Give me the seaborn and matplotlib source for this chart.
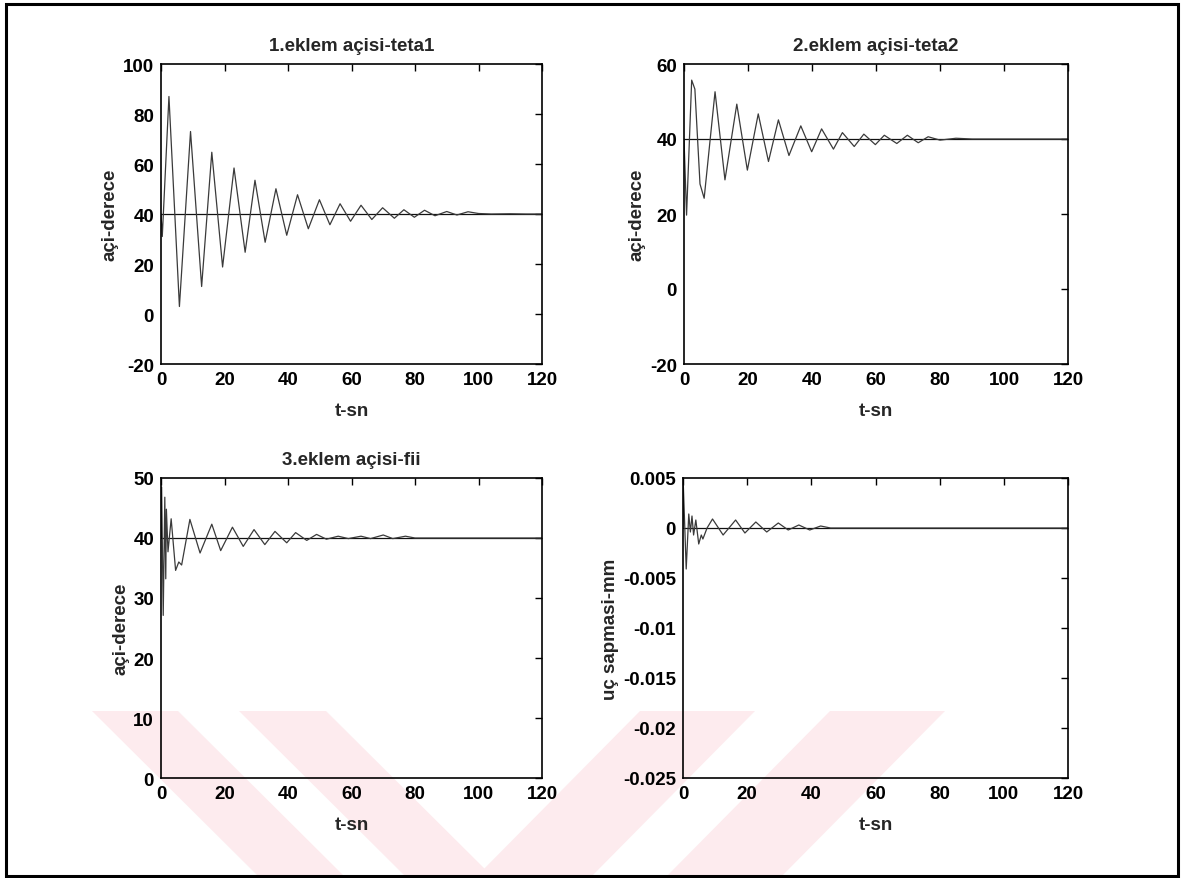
import matplotlib
matplotlib.use("Agg")
import matplotlib.pyplot as plt
import seaborn as sns
import pandas as pd
from matplotlib.patches import Rectangle, Polygon

# ---------------- data ----------------
t1 = [0, 0.4, 2.5, 5.8, 9.3, 12.8, 16.0, 19.4, 23.0, 26.5, 29.6, 32.8, 36.2, 39.6,
      43.0, 46.4, 49.9, 53.2, 56.4, 59.7, 63.0, 66.4, 69.8, 73.5, 76.5, 79.8, 83.0,
      86.3, 90.0, 93.2, 96.7, 100, 104, 110, 115, 120]
v1 = [40, 31, 87, 3, 73, 11, 64.7, 18.8, 58.4, 24.7, 53.5, 28.7, 50.1, 31.5,
      47.7, 34.1, 45.7, 35.7, 44.1, 37.1, 43.5, 37.8, 42.5, 38.3, 41.7, 38.7, 41.5,
      39.3, 41.0, 39.6, 40.9, 40.2, 40.0, 40.1, 40.0, 40.0]

t2 = [0, 0.8, 2.4, 3.4, 5.0, 6.3, 9.7, 12.8, 16.5, 19.8, 23.2, 26.4, 29.5, 32.8,
      36.5, 39.9, 43.0, 46.7, 49.5, 53.2, 56.2, 59.8, 62.6, 66.5, 69.8, 73.2, 76.3,
      80, 85, 90, 100, 120]
v2 = [40, 19.7, 55.7, 53.3, 28, 24.2, 52.6, 29.1, 49.3, 31.7, 46.7, 34.0, 45.1, 35.6,
      43.5, 36.6, 42.7, 37.3, 41.7, 38.0, 41.3, 38.5, 41.0, 38.8, 41.0, 39.0, 40.6,
      39.7, 40.2, 40.0, 40.0, 40.0]

t3 = [0, 0.2, 0.7, 1.2, 1.5, 1.7, 2.2, 3.2, 4.6, 5.6, 6.5, 9.1, 12.3, 16.0, 18.8,
      22.5, 25.9, 29.3, 32.7, 35.9, 39.6, 42.4, 45.9, 49.0, 52.1, 55.8, 59, 63, 66,
      70, 73, 77, 80, 120]
v3 = [40, 48.5, 27.1, 46.8, 33.2, 44.8, 37.7, 43.2, 34.6, 36.0, 35.5, 43.1, 37.5,
      42.3, 37.9, 41.8, 38.6, 41.4, 38.9, 41.1, 39.2, 40.9, 39.6, 40.6, 39.8, 40.3,
      39.9, 40.3, 39.9, 40.5, 39.9, 40.3, 40.0, 40.0]

t4 = [0, 0.1, 1.0, 1.8, 2.3, 2.8, 3.3, 4.0, 4.9, 5.7, 6.2, 7.5, 9.2, 12.5, 16.4,
      19.3, 22.7, 26.1, 29.7, 32.8, 36.1, 39.5, 42.9, 46, 120]
v4 = [0, 0.0043, -0.0041, 0.0014, -0.0004, 0.0012, -0.0007, 0.0008, -0.0016,
      -0.0007, -0.0011, 0.0, 0.0009, -0.0007, 0.0008, -0.0005, 0.0006, -0.0004,
      0.0005, -0.0002, 0.0003, -0.0002, 0.0002, 0.0, 0.0]

ref_t = [0, 120]
ref_levels = [40, 40, 40, 0]

titles = ["1.eklem açisi-teta1", "2.eklem açisi-teta2", "3.eklem açisi-fii", ""]
ylabels = ["açi-derece", "açi-derece", "açi-derece", "uç sapmasi-mm"]
xlabel = "t-sn"
xticks = [0, 20, 40, 60, 80, 100, 120]
yticks1 = [-20, 0, 20, 40, 60, 80, 100]
yticks2 = [-20, 0, 20, 40, 60]
yticks3 = [0, 10, 20, 30, 40, 50]
yticks4 = [-0.025, -0.02, -0.015, -0.01, -0.005, 0, 0.005]
yticklabels4 = ["-0.025", "-0.02", "-0.015", "-0.01", "-0.005", "0", "0.005"]

# ---------------- figure ----------------
sns.set_theme(style="white")
plt.rcParams['font.family'] = ['Liberation Sans', 'DejaVu Sans']
plt.rcParams['axes.unicode_minus'] = False

fig = plt.figure(figsize=(11.84, 8.79), dpi=100)
W, H = 1184, 879

def fx(px):
    return px / W

def fy(py):
    return 1 - py / H

# watermark stripes (pale pink), figure pixel coordinates, behind everything
wm = "#fdebee"
stripes = [
    [(92, 712), (178, 712), (346, 879), (260, 879)],
    [(239, 712), (326, 712), (494, 879), (407, 879)],
    [(640, 712), (755, 712), (590, 879), (475, 879)],
    [(830, 712), (945, 712), (780, 879), (665, 879)],
]
for s in stripes:
    fig.patches.append(Polygon([(fx(x), fy(y)) for x, y in s], closed=True,
                               transform=fig.transFigure, facecolor=wm,
                               edgecolor="none", zorder=-5))

# outer frame
fig.patches.append(Rectangle((fx(6), fy(877)), fx(1178) - fx(6), fy(5) - fy(877),
                             transform=fig.transFigure, fill=False,
                             edgecolor="black", linewidth=2.2, zorder=5))

positions = [
    [fx(161), fy(365), fx(542) - fx(161), fy(65) - fy(365)],
    [fx(684), fy(365), fx(1068) - fx(684), fy(65) - fy(365)],
    [fx(161), fy(779), fx(542) - fx(161), fy(479) - fy(779)],
    [fx(683), fy(779), fx(1068) - fx(683), fy(479) - fy(779)],
]
series = [(t1, v1), (t2, v2), (t3, v3), (t4, v4)]
ylims = [(-20, 100), (-20, 60), (0, 50), (-0.025, 0.005)]
yticks_all = [yticks1, yticks2, yticks3, yticks4]

fs = 13.5
for i in range(4):
    ax = fig.add_axes(positions[i])
    ax.set_facecolor("none")
    ax.set_zorder(1)
    t, v = series[i]
    df = pd.DataFrame({"t": t, "v": v})
    dref = pd.DataFrame({"t": ref_t, "v": [ref_levels[i]] * 2})
    sns.lineplot(data=dref, x="t", y="v", ax=ax, color="#111111", linewidth=0.9)
    sns.lineplot(data=df, x="t", y="v", ax=ax, color="#3a3a3a", linewidth=0.9,
                 sort=False)
    ax.set_xlim(0, 120)
    ax.set_ylim(*ylims[i])
    ax.set_xticks(xticks)
    ax.set_yticks(yticks_all[i])
    if i == 3:
        ax.set_yticklabels(yticklabels4)
    ax.set_xlabel(xlabel, fontsize=fs, fontweight="bold", labelpad=10)
    ax.set_ylabel(ylabels[i], fontsize=fs, fontweight="bold", labelpad=3)
    if titles[i]:
        ax.set_title(titles[i], fontsize=fs, fontweight="bold", pad=10)
    ax.tick_params(direction="in", top=True, right=True, length=5, width=1,
                   labelsize=fs, pad=5, colors="black")
    for lab in ax.get_xticklabels() + ax.get_yticklabels():
        lab.set_fontweight("bold")
    for sp in ax.spines.values():
        sp.set_edgecolor("black")
        sp.set_linewidth(1.2)

fig.savefig("out.png", dpi=100, facecolor="white")
